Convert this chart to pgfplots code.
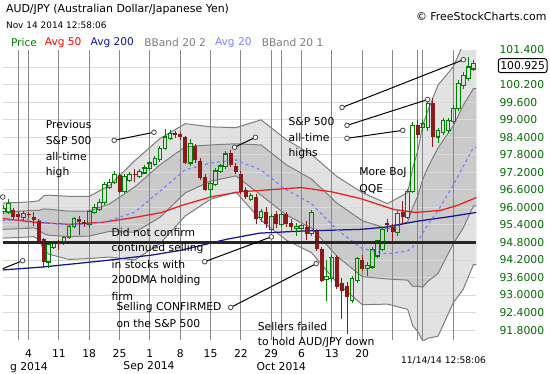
\documentclass[border=0pt]{standalone}
\usepackage{pgfplots}
\pgfplotsset{compat=1.18}
\usepackage{pgfplotstable}
\usepackage{fontspec}
\setmainfont{DejaVu Sans}

\definecolor{upc}{RGB}{0,128,0}
\definecolor{dnc}{RGB}{139,26,26}
\definecolor{bbout}{RGB}{226,226,226}
\definecolor{bbin}{RGB}{202,202,202}
\definecolor{bbline}{RGB}{125,125,125}
\definecolor{avgtw}{RGB}{128,128,255}
\definecolor{avgfif}{RGB}{232,30,30}
\definecolor{avgtwo}{RGB}{20,20,140}
\definecolor{lblg}{RGB}{0,110,0}
\definecolor{vgrid}{RGB}{135,135,135}
\definecolor{hgrid}{RGB}{218,218,218}

\newcommand\af{\fontsize{6.5pt}{7.8pt}\selectfont}

% rising candles (close >= open)
\pgfplotstableread{
k o h l c
-1 95.86 96.07 95.79 95.96
0 95.83 96.27 95.79 96.13
3 95.66 95.86 95.56 95.79
8 94.13 94.81 93.96 94.74
9 94.64 94.85 94.61 94.81
11 94.78 95.02 94.74 94.98
12 94.98 95.39 94.95 95.35
13 95.35 95.66 95.32 95.63
16 95.42 95.90 95.32 95.86
17 95.83 96.10 95.79 96.00
18 95.93 96.27 95.90 96.17
19 96.17 96.85 96.10 96.78
20 96.68 96.95 96.64 96.85
21 96.85 97.22 96.81 97.12
23 96.54 97.12 96.51 97.05
24 96.91 97.18 96.88 97.12
26 97.05 97.29 97.02 97.22
27 97.18 97.42 97.15 97.35
28 97.32 97.56 97.29 97.52
29 97.46 97.73 97.42 97.69
30 97.63 98.10 97.59 98.03
31 98.03 98.68 98.00 98.41
32 98.37 98.64 98.34 98.54
36 97.52 98.34 97.42 98.20
40 96.61 96.85 96.37 96.81
41 96.78 97.32 96.74 97.25
42 97.22 97.46 97.18 97.42
43 97.39 97.93 97.35 97.83
48 96.27 96.47 96.24 96.41
50 95.66 95.93 95.52 95.86
52 95.25 95.76 95.18 95.69
54 95.42 95.83 95.35 95.76
57 95.29 95.46 95.05 95.35
58 95.29 95.42 95.18 95.39
60 95.12 95.90 95.05 95.83
63 93.52 94.17 92.81 93.63
64 93.56 94.37 93.46 94.30
68 92.81 93.62 92.74 93.56
69 93.49 94.30 93.42 94.24
71 93.90 94.10 93.66 94.00
72 93.96 94.64 93.90 94.57
73 94.34 94.88 94.27 94.85
74 94.57 95.32 94.54 95.25
77 95.15 95.86 95.05 95.79
79 95.66 96.61 95.62 96.54
80 96.54 98.91 96.51 98.81
82 98.74 98.98 98.64 98.88
83 98.74 99.73 98.64 99.56
85 98.41 98.71 98.24 98.64
86 98.57 99.05 98.51 98.98
87 98.64 99.05 98.57 98.98
88 98.95 99.49 98.88 99.39
89 99.39 100.34 99.32 100.24
90 100.17 100.61 100.07 100.51
91 100.41 101.12 100.34 100.81
92 100.74 101.02 100.68 100.925
}\upc

% falling candles (close < open)
\pgfplotstableread{
k o h l c
1 95.90 95.96 95.62 95.69
2 95.79 95.86 95.59 95.66
4 95.76 95.83 95.66 95.73
5 95.69 95.83 95.39 95.56
6 95.52 95.59 94.81 94.85
7 94.91 94.95 93.96 94.13
10 94.81 94.88 94.57 94.74
14 95.59 95.69 95.08 95.49
15 95.49 95.56 95.35 95.42
22 97.12 97.15 96.51 96.54
25 97.15 97.29 96.88 97.12
33 98.54 98.61 98.41 98.47
34 98.51 98.57 98.34 98.41
35 98.41 98.44 97.49 97.52
37 98.10 98.17 97.55 97.63
38 97.59 97.69 96.95 97.02
39 97.05 97.12 96.57 96.61
44 97.86 97.96 97.39 97.46
45 97.42 97.49 97.15 97.22
46 97.15 97.22 96.47 96.54
47 96.61 96.68 96.30 96.37
49 96.37 96.44 95.46 95.59
51 95.86 96.00 95.32 95.42
53 95.76 95.86 95.32 95.42
55 95.76 95.83 95.35 95.42
56 95.46 95.59 95.18 95.32
59 95.32 95.52 94.91 95.08
61 95.18 95.25 94.51 94.57
62 94.57 94.64 93.46 93.49
65 94.30 94.37 93.22 93.29
66 93.42 93.56 92.20 93.15
67 93.32 93.42 91.69 92.95
70 94.20 94.34 93.83 93.90
75 95.46 95.59 95.18 95.39
76 95.32 95.42 94.81 95.15
78 95.86 96.20 95.42 95.66
81 98.81 98.98 98.41 98.47
84 99.56 99.73 98.07 98.41
}\dnc

% Bollinger bands: 20-day average, +-1 and +-2 standard deviations
\pgfplotstableread{
k m u2 u1 l1 l2
-1.11 95.55 96.15 95.85 95.25 94.95
2 95.57 96.17 95.87 95.27 94.97
5 95.60 96.20 95.90 95.30 95.00
6 95.57 96.23 95.90 95.24 94.91
7 95.50 96.40 95.95 95.10 94.55
8 95.46 96.42 95.94 95.05 94.40
12 95.40 96.38 95.87 95.00 94.22
16 95.42 96.38 95.88 95.02 94.25
20 95.55 96.75 96.12 95.18 94.30
25 95.84 97.60 96.70 95.15 94.20
30 96.56 98.36 97.46 95.66 94.76
35 97.29 98.87 98.08 96.50 95.71
40 97.52 98.76 98.14 96.90 96.28
45 97.63 98.73 98.18 97.08 96.53
50 97.28 99.00 98.14 96.42 95.56
55 96.60 98.32 97.46 95.74 94.88
60 96.13 97.81 96.97 95.29 94.45
65 95.24 97.06 96.15 94.33 93.42
70 94.59 96.51 95.55 93.63 92.67
75 94.41 96.13 95.27 93.55 92.69
79 94.51 96.51 95.51 93.51 92.51
80 94.65 97.35 96.00 93.30 91.95
81 94.85 97.95 96.40 93.30 91.75
82 95.12 98.82 96.97 93.27 91.42
83 95.42 99.32 97.37 93.47 91.52
85 95.89 100.19 98.04 93.74 91.59
88 96.77 100.81 98.79 94.75 92.73
89.5 97.24 101.40 99.32 95.16 93.08
90 97.40 101.60 99.50 95.30 93.20
92 98.06 102.08 100.07 96.05 94.04
92.59 98.06 102.08 100.07 96.05 94.04
}\bands

\pgfplotstableread{
k v
-1.11 95.62
5.39 95.49
12.08 95.42
18.57 95.49
25.07 95.66
30.39 95.83
34.32 96.07
40.23 96.37
46.13 96.54
52.04 96.61
57.94 96.68
63.85 96.54
69.76 96.30
76.25 95.93
80.58 95.83
85.5 95.90
88.85 96.07
92.59 96.34
}\smafifty

\pgfplotstableread{
k v
-1.11 93.86
6.76 93.96
18.57 94.17
28.42 94.37
34.32 94.54
43.18 94.91
49.68 95.12
57.94 95.19
69.76 95.25
74.29 95.32
80.98 95.53
87.48 95.69
92.59 95.83
}\smatwohundred

\pgfplotsset{
  vbar/.style={draw=none, mark=none, forget plot,
    error bars/.cd, y dir=plus, y explicit, error mark=none,
    error bar style={draw=#1, line width=0.6pt, line cap=rect}},
  hbar/.style={draw=none, mark=none, forget plot,
    error bars/.cd, x dir=both, x fixed=0.36, error mark=none,
    error bar style={draw=upc, line width=0.7pt, line cap=rect}},
}

\begin{document}
\begin{tikzpicture}
\fill[white] (0pt,0pt) rectangle (330pt,-225pt);
\begin{axis}[
  at={(0pt,-30pt)}, anchor=north west,
  scale only axis, width=285.6pt, height=175.2pt,
  xmin=-1.11, xmax=92.59, ymin=91.45, ymax=101.4,
  axis line style={draw=none},
  major tick length=0pt,
  xtick={4,10,16,22,28,34,40,46,52,58,64,70},
  xticklabels={4,11,18,25,1,8,15,22,29,6,13,20},
  ytick={91.8,92.4,93.0,93.6,94.2,94.8,95.4,96.0,96.6,97.2,97.8,98.4,99.0,99.6,100.2,100.8,101.4},
  yticklabels={91.8000,92.4000,93.0000,93.6000,94.2000,94.8000,95.4000,96.0000,96.6000,97.2000,97.8000,98.4000,99.000,99.600,100.200,{},101.400},
  yticklabel pos=right,
  yticklabel style={anchor=west, inner sep=0pt, xshift=13.8pt, text=lblg, font=\af},
  xticklabel style={anchor=center, inner sep=0pt, yshift=-7.8pt, font=\af},
  unbounded coords=jump,
]
% Bollinger fills (outer band 2 sd, inner band 1 sd)
\addplot[fill=bbout, draw=none, forget plot] coordinates {
(-1.11,96.15) (2,96.17) (5,96.20) (6,96.23) (7,96.40) (8,96.42) (12,96.38) (16,96.38) (20,96.75) (25,97.60) (30,98.36) (35,98.87) (40,98.76) (45,98.73) (50,99.00) (55,98.32) (60,97.81) (65,97.06) (70,96.51) (75,96.13) (79,96.51) (80,97.35) (81,97.95) (82,98.82) (83,99.32) (85,100.19) (88,100.81) (89.5,101.40) (90,101.40) (92,101.40) (92.59,101.40)
(92.59,94.04) (92,94.04) (90,93.20) (89.5,93.08) (88,92.73) (85,91.59) (83,91.52) (82,91.45) (81,91.75) (80,91.95) (79,92.51) (75,92.69) (70,92.67) (65,93.42) (60,94.45) (55,94.88) (50,95.56) (45,96.53) (40,96.28) (35,95.71) (30,94.76) (25,94.20) (20,94.30) (16,94.25) (12,94.22) (8,94.40) (7,94.55) (6,94.91) (5,95.00) (2,94.97) (-1.11,94.95)};
\addplot[fill=bbin, draw=none, forget plot] coordinates {
(-1.11,95.85) (2,95.87) (5,95.90) (6,95.90) (7,95.95) (8,95.94) (12,95.87) (16,95.88) (20,96.12) (25,96.70) (30,97.46) (35,98.08) (40,98.14) (45,98.18) (50,98.14) (55,97.46) (60,96.97) (65,96.15) (70,95.55) (75,95.27) (79,95.51) (80,96.00) (81,96.40) (82,96.97) (83,97.37) (85,98.04) (88,98.79) (89.5,99.32) (90,99.50) (92,100.07) (92.59,100.07)
(92.59,96.05) (92,96.05) (90,95.30) (89.5,95.16) (88,94.75) (85,93.74) (83,93.47) (82,93.27) (81,93.30) (80,93.30) (79,93.51) (75,93.55) (70,93.63) (65,94.33) (60,95.29) (55,95.74) (50,96.42) (45,97.08) (40,96.90) (35,96.50) (30,95.66) (25,95.15) (20,95.18) (16,95.02) (12,95.00) (8,95.05) (7,95.10) (6,95.24) (5,95.30) (2,95.27) (-1.11,95.25)};
% grid lines over the band fills
\addplot[hgrid, line width=0.6pt, forget plot] coordinates {
(-1.11,91.8) (92.59,91.8) (0,nan) (-1.11,92.4) (92.59,92.4) (0,nan)
(-1.11,93.0) (92.59,93.0) (0,nan) (-1.11,93.6) (92.59,93.6) (0,nan)
(-1.11,94.2) (92.59,94.2) (0,nan) (-1.11,95.4) (92.59,95.4) (0,nan)
(-1.11,96.0) (92.59,96.0) (0,nan) (-1.11,96.6) (92.59,96.6) (0,nan)
(-1.11,97.2) (92.59,97.2) (0,nan) (-1.11,97.8) (92.59,97.8) (0,nan)
(-1.11,98.4) (92.59,98.4) (0,nan) (-1.11,99.0) (92.59,99.0) (0,nan)
(-1.11,99.6) (92.59,99.6) (0,nan) (-1.11,100.2) (92.59,100.2) (0,nan)
(-1.11,100.8) (92.59,100.8)};
\addplot[vgrid, line width=0.6pt, forget plot] coordinates {
(2,91.45) (2,101.4) (0,nan) (4,91.45) (4,101.4) (0,nan)
(10,91.45) (10,101.4) (0,nan) (16,91.45) (16,101.4) (0,nan)
(22,91.45) (22,101.4) (0,nan) (28,91.45) (28,101.4) (0,nan)
(34,91.45) (34,101.4) (0,nan) (40,91.45) (40,101.4) (0,nan)
(46,91.45) (46,101.4) (0,nan) (52,91.45) (52,101.4) (0,nan)
(54,91.45) (54,101.4) (0,nan) (58,91.45) (58,101.4) (0,nan)
(64,91.45) (64,101.4) (0,nan) (70,91.45) (70,101.4) (0,nan)
(76,91.45) (76,101.4) (0,nan) (81,91.45) (81,101.4) (0,nan)
(82,91.45) (82,101.4) (0,nan) (88,91.45) (88,101.4)};
% band lines
\addplot[bbline, line width=0.6pt] table[x=k,y=u2]{\bands};
\addplot[bbline, line width=0.6pt] table[x=k,y=u1]{\bands};
\addplot[bbline, line width=0.6pt] table[x=k,y=l1]{\bands};
\addplot[bbline, line width=0.6pt] table[x=k,y=l2]{\bands};
% moving averages
\addplot[avgfif, line width=0.75pt] table[x=k,y=v]{\smafifty};
\addplot[avgtwo, line width=0.75pt] table[x=k,y=v]{\smatwohundred};
\addplot[avgtw, line width=0.75pt, dash pattern=on 1.8pt off 1.8pt] table[x=k,y=m]{\bands};
% falling candles: wick and filled body
\addplot[vbar=dnc] table[x=k, y=l, y error plus expr=\thisrow{h}-\thisrow{l}]{\dnc};
\addplot[draw=none, mark=none, forget plot,
  error bars/.cd, y dir=plus, y explicit, error mark=none,
  error bar style={draw=dnc, line width=2.4pt}]
  table[x=k, y=c, y error plus expr=\thisrow{o}-\thisrow{c}]{\dnc};
% rising candles: wicks and hollow body
\addplot[vbar=upc] table[x=k, y=c, y error plus expr=\thisrow{h}-\thisrow{c}]{\upc};
\addplot[vbar=upc] table[x=k, y=l, y error plus expr=\thisrow{o}-\thisrow{l}]{\upc};
\addplot[vbar=upc] table[x expr=\thisrow{k}-0.36, y=o, y error plus expr=\thisrow{c}-\thisrow{o}]{\upc};
\addplot[vbar=upc] table[x expr=\thisrow{k}+0.36, y=o, y error plus expr=\thisrow{c}-\thisrow{o}]{\upc};
\addplot[hbar] table[x=k, y=o]{\upc};
\addplot[hbar] table[x=k, y=c]{\upc};
% support level
\addplot[black!85, line width=1.5pt] coordinates {(-1.11,94.8) (92.59,94.8)};
\end{axis}

\begin{scope}[x=0.6pt,y=-0.6pt, every node/.style={inner sep=0pt, anchor=west}]
% header
\node at (3,10) {\fontsize{6.6pt}{8pt}\selectfont AUD/JPY (Australian Dollar/Japanese Yen)};
\node at (3,25) {\fontsize{5.4pt}{6.5pt}\selectfont Nov 14 2014 12:58:06};
\node at (415,17) {\fontsize{6.6pt}{8pt}\selectfont \textcopyright\ FreeStockCharts.com};
\node[text=upc] at (8,43) {\fontsize{6.4pt}{7.5pt}\selectfont Price};
\node[text=red] at (42,43) {\fontsize{6.4pt}{7.5pt}\selectfont Avg 50};
\node[text=avgtwo] at (88,43) {\fontsize{6.4pt}{7.5pt}\selectfont Avg 200};
\node[text=bbline] at (142,43) {\fontsize{6.4pt}{7.5pt}\selectfont BBand 20 2};
\node[text=avgtw] at (213,43) {\fontsize{6.4pt}{7.5pt}\selectfont Avg 20};
\node[text=bbline] at (260,43) {\fontsize{6.4pt}{7.5pt}\selectfont BBand 20 1};
% value box
\node[draw=black, line width=0.6pt, rounded corners=1.5pt, fill=white, minimum width=29.4pt, minimum height=8.4pt, anchor=center] at (522.5,66) {\af 100.925};
% month labels
\node[anchor=center] at (147,368) {\af Sep 2014};
\node[anchor=center] at (280,368) {\af Oct 2014};
\node at (7,369) {\af g 2014};
\node at (400,362) {\fontsize{5.5pt}{6.5pt}\selectfont 11/14/14 12:58:06};
% annotations
\node at (43,125) {\af Previous};
\node at (43,141) {\af S\&P 500};
\node at (43,157) {\af all-time};
\node at (43,173) {\af high};
\node at (287,122) {\af S\&P 500};
\node at (287,138) {\af all-time};
\node at (287,154) {\af highs};
\node at (109,234) {\af Did not confirm};
\node at (109,250) {\af continued selling};
\node at (109,266) {\af in stocks with};
\node at (109,282) {\af 200DMA holding};
\node at (109,298) {\af firm};
\node at (114,309) {\af Selling CONFIRMED};
\node at (114,325) {\af on the S\&P 500};
\node at (256,328) {\af Sellers failed};
\node at (256,344) {\af to hold AUD/JPY down};
\node at (358,174) {\af More BoJ};
\node at (358,190) {\af QQE};
% callouts
\draw[black, line width=0.6pt] (112,141) -- (152,133);
\draw[black, line width=0.6pt] (233,148) -- (254,138);
\draw[black, line width=0.6pt] (341,108) -- (463,60);
\draw[black, line width=0.6pt] (346,126) -- (427,100);
\draw[black, line width=0.6pt] (346,139) -- (402,131);
\draw[black, line width=0.6pt] (203,263) -- (270,238);
\draw[black, line width=0.6pt] (229,309) -- (315,265);
\draw[black, line width=0.6pt] (0,270) -- (20,262);
\foreach \p in {(112,141),(152,133),(233,148),(254,138),(341,108),(463,60),(346,126),(427,100),(346,139),(402,131),(203,263),(270,238),(229,309),(315,265),(20,262),(0,198)}
  \draw[gray!60!black, fill=white, line width=0.5pt] \p circle[radius=1.4pt];
\end{scope}
\end{tikzpicture}
\end{document}
